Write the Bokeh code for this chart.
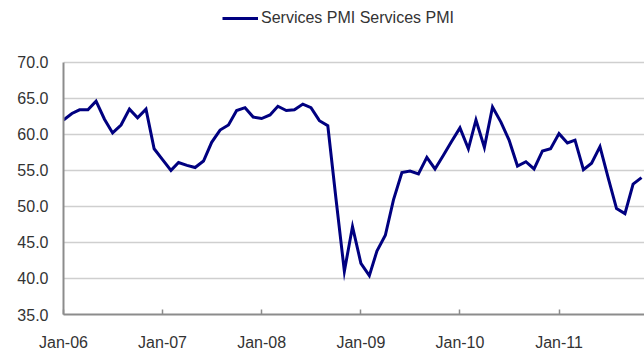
import pandas as pd
from bokeh.plotting import figure
from bokeh.models import (Range1d, MonthsTicker, DatetimeTickFormatter, NumeralTickFormatter,
                          Legend, LegendItem, FixedTicker, ColumnDataSource)
from bokeh.embed import file_html
from bokeh.resources import INLINE

# ---- data ----
series_name = "Services PMI Services PMI"
first_month = "2006-01-01"
pmi_2006 = [62.0, 62.9, 63.4, 63.4, 64.6, 62.1, 60.2, 61.3, 63.5, 62.3, 63.5, 58.0]
pmi_2007 = [56.5, 55.0, 56.1, 55.7, 55.4, 56.3, 58.9, 60.6, 61.3, 63.3, 63.7, 62.4]
pmi_2008 = [62.2, 62.7, 63.9, 63.3, 63.4, 64.2, 63.7, 61.9, 61.2, 51.1, 41.0, 47.2]
pmi_2009 = [42.1, 40.4, 43.8, 46.0, 50.9, 54.7, 54.9, 54.5, 56.8, 55.2, 57.1, 59.0]
pmi_2010 = [60.9, 58.0, 62.0, 58.2, 63.8, 61.7, 59.2, 55.6, 56.2, 55.2, 57.7, 58.0]
pmi_2011 = [60.1, 58.8, 59.2, 55.1, 56.0, 58.3, 54.0, 49.7, 49.0, 53.1, 54.0]
y_min, y_max, y_step = 35, 70, 5

pmi = pmi_2006 + pmi_2007 + pmi_2008 + pmi_2009 + pmi_2010 + pmi_2011
dates = pd.date_range(first_month, periods=len(pmi), freq="MS")
src = ColumnDataSource(dict(date=dates, pmi=pmi))
y_ticks = list(range(y_min, y_max + 1, y_step))

W, H = 644, 353
B_LEFT, B_RIGHT, B_BOTTOM = 63, 0, 38
TOP_SPACE = 62                      # blank band above the 70.0 line (legend lives here)
frame_w = W - B_LEFT - B_RIGHT
frame_h = H - B_BOTTOM
data_h = frame_h - TOP_SPACE
x_start = dates[0]
x_end = x_start + (dates[-1] - x_start) * (frame_w / (frame_w - 3.0))
y_top = y_max + TOP_SPACE * (y_max - y_min) / data_h

FONT = "Liberation Sans"
TXT = "#333333"
AXIS = "#8c8c8c"

p = figure(width=W, height=H, x_axis_type="datetime",
           x_range=Range1d(x_start, x_end), y_range=Range1d(y_min, y_top),
           output_backend="svg", toolbar_location=None,
           min_border_left=B_LEFT, min_border_right=B_RIGHT,
           min_border_top=0, min_border_bottom=B_BOTTOM)
p.outline_line_color = None
p.background_fill_color = "white"
p.border_fill_color = "white"

r = p.line("date", "pmi", source=src, line_color="#000080", line_width=3,
           line_join="miter")

# x axis
p.xaxis.ticker = MonthsTicker(months=[0])
p.xaxis.formatter = DatetimeTickFormatter(months="%b-%y", years="%b-%y")
p.xaxis.major_tick_in = 5
p.xaxis.major_tick_out = 0
p.xaxis.minor_tick_line_color = None
p.xaxis.axis_line_color = AXIS
p.xaxis.axis_line_width = 2
p.xaxis.major_tick_line_color = AXIS
p.xaxis.major_tick_line_width = 1.5
p.xaxis.major_label_standoff = 19
p.xaxis.major_label_text_font = FONT
p.xaxis.major_label_text_font_size = "16px"
p.xaxis.major_label_text_color = TXT

# y axis (line limited to 35..70)
p.yaxis.ticker = FixedTicker(ticks=y_ticks)
p.yaxis.bounds = (y_min, y_max)
p.yaxis.formatter = NumeralTickFormatter(format="0.0")
p.yaxis.major_tick_in = 0
p.yaxis.major_tick_out = 0
p.yaxis.minor_tick_line_color = None
p.yaxis.axis_line_color = AXIS
p.yaxis.axis_line_width = 2
p.yaxis.major_label_standoff = 15
p.yaxis.major_label_text_font = FONT
p.yaxis.major_label_text_font_size = "16px"
p.yaxis.major_label_text_color = TXT

p.xgrid.visible = False
p.ygrid.ticker = FixedTicker(ticks=y_ticks)
p.ygrid.grid_line_color = "#cfcfcf"
p.ygrid.grid_line_width = 1.5

legend = Legend(items=[LegendItem(label=series_name, renderers=[r])],
                location=(159, 286), orientation="horizontal",
                padding=0, margin=0, glyph_width=36, glyph_height=20,
                label_standoff=3, border_line_color=None,
                background_fill_alpha=0,
                label_text_font=FONT, label_text_font_size="16px",
                label_text_color=TXT)
p.add_layout(legend)

open("out.html", "w").write(file_html(p, INLINE))
